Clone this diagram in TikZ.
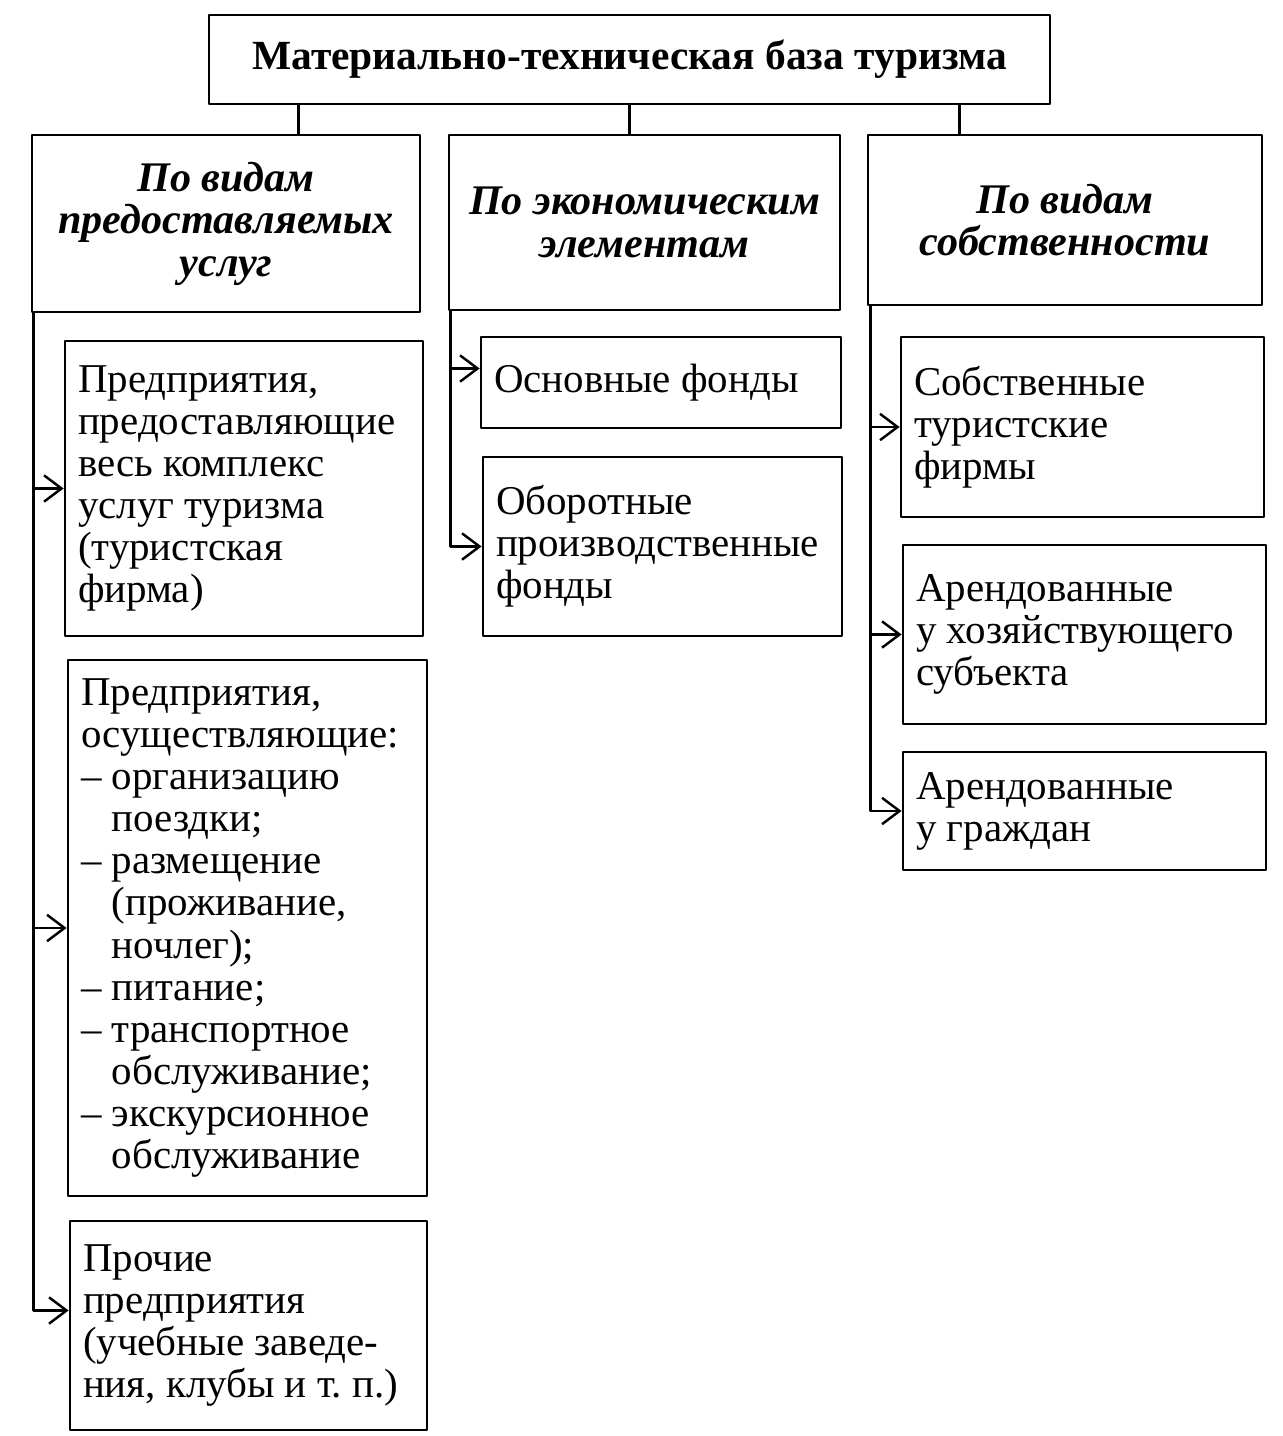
\documentclass[tikz,border=0pt]{standalone}
\usepackage{fontspec}
\setmainfont{Liberation Serif}
\usetikzlibrary{arrows.meta}
\frenchspacing
\tikzset{
  ln/.style={line width=1.6pt},
  arr/.style={ln,-{Straight Barb[length=10pt,width=15pt,line width=1.4pt]}},
  box/.style={draw,ln,inner xsep=0.26cm,inner ysep=0pt,align=flush left,
    font=\fontsize{23.3}{24}\selectfont},
  head/.style={box,align=flush center,font=\fontsize{24}{24.2}\selectfont\bfseries\itshape}
}
\begin{document}
\begin{tikzpicture}[x=0.02cm,y=-0.02cm,line cap=round,line join=round]
\useasboundingbox (0,0) rectangle (1283,1436);
% top
\node[box,align=flush center,text width=16.3cm,minimum height=1.78cm,font=\fontsize{23.6}{24}\selectfont\bfseries] (title) at (629.5,59.5)
  {Материально-техническая база туризма};
\node[head,text width=7.24cm,minimum height=3.54cm] (hdA) at (226,223.5) {По видам\\предоставляемых\\услуг};
\node[head,text width=7.3cm,minimum height=3.5cm] (hdB) at (644.5,222.5) {По экономическим\\элементам};
\node[head,text width=7.36cm,minimum height=3.4cm] (hdC) at (1065,220) {По видам\\собственности};
% left column
\node[box,text width=6.64cm,minimum height=5.9cm] (a1) at (244,488.5)
  {Предприятия,\\предоставляющие\\весь комплекс\\услуг туризма\\(туристская\\фирма)};
\node[box,text width=6.66cm,minimum height=10.72cm] (a2) at (247.5,928)
  {Предприятия,\\осуществляющие:\\– организацию\\\phantom{– }поездки;\\– размещение\\\phantom{– }(проживание,\\\phantom{– }ночлег);\\– питание;\\– транспортное\\\phantom{– }обслуживание;\\– экскурсионное\\\phantom{– }обслуживание};
\node[box,text width=6.62cm,minimum height=4.18cm] (a3) at (248.5,1325.5)
  {Прочие\\предприятия\\(учебные заведе-\\ния, клубы и т. п.)};
% middle column
\node[box,text width=6.68cm,minimum height=1.82cm] (b1) at (661,382.5) {Основные фонды\\[-2pt]};
\node[box,text width=6.66cm,minimum height=3.58cm] (b2) at (662.5,546.5) {Оборотные\\производственные\\фонды};
% right column
\node[box,text width=6.74cm,minimum height=3.6cm] (c1) at (1082.5,427) {Собственные\\туристские\\фирмы};
\node[box,text width=6.74cm,minimum height=3.58cm] (c2) at (1084.5,634.5) {Арендованные\\у хозяйствующего\\субъекта};
\node[box,text width=6.74cm,minimum height=2.36cm] (c3) at (1084.5,811) {Арендованные\\у граждан};
% links from the title
\coordinate (pA) at ([xshift=1.82cm]title.south west);
\coordinate (pC) at ([xshift=-1.84cm]title.south east);
\draw[ln] (pA) -- (pA |- hdA.north);
\draw[ln] (title.south) -- (title.south |- hdB.north);
\draw[ln] (pC) -- (pC |- hdC.north);
% trunks
\coordinate (tA) at ([xshift=0.06cm]hdA.south west);
\coordinate (tB) at ([xshift=0.06cm]hdB.south west);
\coordinate (tC) at ([xshift=0.08cm]hdC.south west);
\draw[arr] (tA) |- ([yshift=0.3cm]a3.west);
\foreach \n in {a1,a2}
{\draw[arr] (tA |- \n.west) -- (\n.west);}
\draw[arr] (tB) |- (b2.west);
\draw[arr] (tB |- b1.west) ++(0,-14) -- ([yshift=0.28cm]b1.west);
\draw[arr] (tC) |- (c3.west);
\foreach \n in {c1,c2}
{\draw[arr] (tC |- \n.west) -- (\n.west);}
\end{tikzpicture}
\end{document}
